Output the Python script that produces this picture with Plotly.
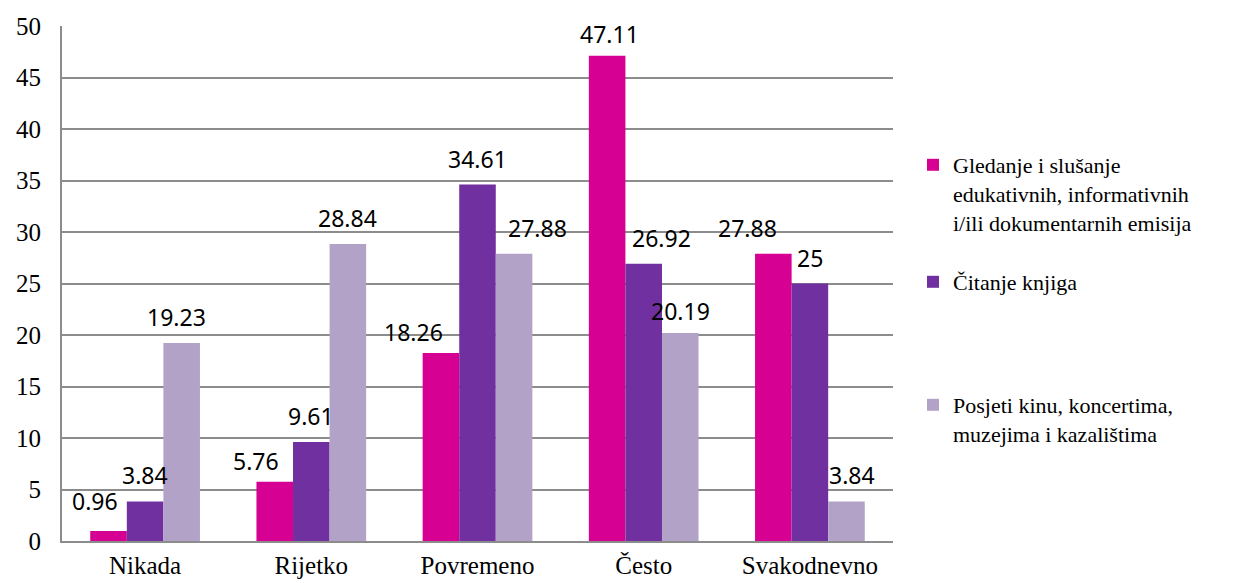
import plotly.graph_objects as go

categories = ["Nikada", "Rijetko", "Povremeno", "Često", "Svakodnevno"]

gledanje = [0.96, 5.76, 18.26, 47.11, 27.88]
citanje = [3.84, 9.61, 34.61, 26.92, 25]
posjeti = [19.23, 28.84, 27.88, 20.19, 3.84]

series_names = [
    "Gledanje i slušanje<br>edukativnih, informativnih<br>i/ili dokumentarnih emisija",
    "Čitanje knjiga",
    "Posjeti kinu, koncertima,<br>muzejima i kazalištima",
]
colors = ["#D60093", "#7030A0", "#B3A2C7"]

# small pixel nudges of the data labels (as placed in the original)
label_nudge = [
    [(-14, 4), (-19, -5), (-27, -5), (2, -4), (-26, 0)],
    [(0, 0), (0, 0), (0, 0), (18, 0), (0, 0)],
    [(-5, 0), (0, 0), (23, 0), (0, -4), (6, 0)],
]

# the page body adds an 8px offset, so the figure is drawn slightly smaller
OFF = 8
W, H = 1243 - OFF, 583 - OFF
margin = dict(l=62 - OFF, r=350, t=26 - OFF, b=42, autoexpand=False)
bargap = 0.34

fig = go.Figure()
all_series = [gledanje, citanje, posjeti]
legends = ["legend2", "legend3", "legend4"]
for vals, name, col, lg in zip(all_series, series_names, colors, legends):
    fig.add_trace(go.Bar(
        x=categories, y=vals, name=name, marker_color=col,
        marker_line_width=0, legend=lg,
    ))

# data labels above each bar, placed through the axis scale
plot_w = W - margin["l"] - margin["r"]
bar_w = plot_w / len(categories) * (1 - bargap) / 3
for i, vals in enumerate(all_series):
    for j, (cat, v) in enumerate(zip(categories, vals)):
        dx, dy = label_nudge[i][j]
        fig.add_annotation(
            x=cat, y=v, text=f"{v:g}", showarrow=False,
            xanchor="center", yanchor="bottom",
            xshift=(i - 1) * bar_w + dx, yshift=8 + dy,
            font=dict(family="Noto Sans", size=23, color="black"),
        )

serif = "Liberation Serif, Times New Roman, serif"
leg_common = dict(
    font=dict(family=serif, size=22, color="black"),
    xref="container", yref="container", xanchor="left", yanchor="top",
    valign="top", itemwidth=30, bgcolor="rgba(0,0,0,0)",
)


def leg_pos(px, py):
    # px, py are screen pixels of the legend box corner
    return dict(x=(px - OFF) / W, y=1 - (py - OFF) / H)


fig.update_layout(
    width=W, height=H,
    margin=margin,
    barmode="group", bargap=bargap, bargroupgap=0,
    plot_bgcolor="white", paper_bgcolor="white",
    showlegend=True,
    legend2=dict(**leg_pos(913, 144), **leg_common),
    legend3=dict(**leg_pos(913, 261), **leg_common),
    legend4=dict(**leg_pos(913, 384), **leg_common),
    xaxis=dict(
        showline=True, linecolor="#8C8C8C", linewidth=2,
        tickfont=dict(family=serif, size=25, color="black"),
        ticks="", ticklabelstandoff=1,
    ),
    yaxis=dict(
        range=[0, 50], dtick=5, showline=True, linecolor="#8C8C8C", linewidth=2,
        showgrid=True, gridcolor="#8C8C8C", gridwidth=2, zeroline=False,
        tickfont=dict(family=serif, size=25, color="black"),
        ticks="", ticklabelstandoff=14,
    ),
)

fig.write_html("out.html")
